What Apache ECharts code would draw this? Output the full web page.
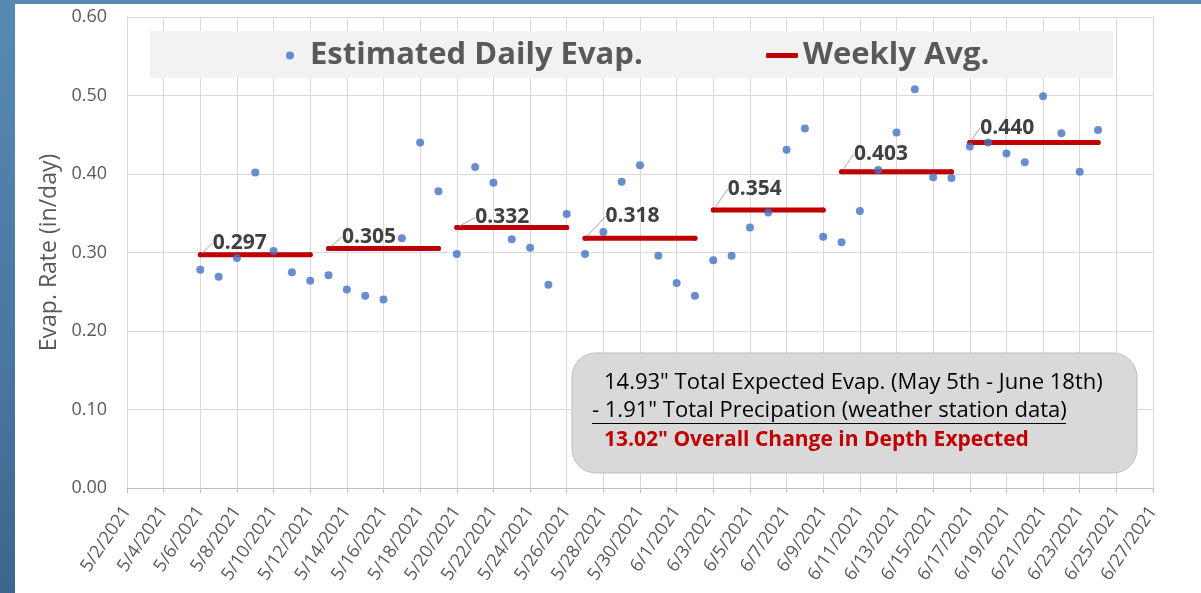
<!DOCTYPE html>
<html>
<head>
<meta charset="utf-8">
<script src="https://cdn.jsdelivr.net/npm/echarts@6/dist/echarts.min.js"></script>
<style>
  html, body { margin: 0; padding: 0; }
  body {
    width: 1201px; height: 593px; overflow: hidden; position: relative;
    background: linear-gradient(180deg, #5788b4 0%, #4a77a2 60%, #3d658f 100%);
  }
  .panel { position: absolute; left: 15px; top: 4px; width: 1186px; height: 589px; background: #fff; }
  #chart { position: absolute; left: 0; top: 0; width: 1201px; height: 593px; }
</style>
</head>
<body>
<div class="panel"></div>
<div id="chart"></div>
<script>
// 数据
const dates = [
  '5/6/2021', '5/7/2021', '5/8/2021', '5/9/2021', '5/10/2021', '5/11/2021', '5/12/2021',
  '5/13/2021', '5/14/2021', '5/15/2021', '5/16/2021', '5/17/2021', '5/18/2021', '5/19/2021',
  '5/20/2021', '5/21/2021', '5/22/2021', '5/23/2021', '5/24/2021', '5/25/2021', '5/26/2021',
  '5/27/2021', '5/28/2021', '5/29/2021', '5/30/2021', '5/31/2021', '6/1/2021', '6/2/2021',
  '6/3/2021', '6/4/2021', '6/5/2021', '6/6/2021', '6/7/2021', '6/8/2021', '6/9/2021',
  '6/10/2021', '6/11/2021', '6/12/2021', '6/13/2021', '6/14/2021', '6/15/2021', '6/16/2021',
  '6/17/2021', '6/18/2021', '6/19/2021', '6/20/2021', '6/21/2021', '6/22/2021', '6/23/2021', '6/24/2021'
]
const dailyEvap = [
  0.278, 0.269, 0.293, 0.402, 0.302, 0.275, 0.264,
  0.271, 0.253, 0.245, 0.240, 0.318, 0.440, 0.378,
  0.298, 0.409, 0.389, 0.317, 0.306, 0.259, 0.349,
  0.298, 0.326, 0.390, 0.411, 0.296, 0.261, 0.245,
  0.290, 0.296, 0.332, 0.351, 0.431, 0.458, 0.320,
  0.313, 0.353, 0.405, 0.453, 0.508, 0.396, 0.395,
  0.435, 0.440, 0.426, 0.415, 0.499, 0.452, 0.403, 0.456
]
const weekStart = ['5/6/2021', '5/13/2021', '5/20/2021', '5/27/2021', '6/3/2021', '6/10/2021', '6/17/2021']
const weekEnd = ['5/12/2021', '5/19/2021', '5/26/2021', '6/2/2021', '6/9/2021', '6/16/2021', '6/24/2021']
const weeklyAvg = [0.297, 0.305, 0.332, 0.318, 0.354, 0.403, 0.440]
const axisStart = '5/2/2021'
const axisEnd = '6/27/2021'
const yTicks = [0, 0.6, 0.1] // min, max, step

// 标签偏移 (px)
const labelOffsets = [[10, -12], [11, -12], [16, -10], [18, -22], [12, -21], [10, -18], [8, -15]]

// 日期 <-> 年内第几天
const monthDays = [31, 28, 31, 30, 31, 30, 31, 31, 30, 31, 30, 31]
const toDay = (s) => {
  const [m, d] = s.split('/').map(Number)
  let n = d
  for (let i = 0; i < m - 1; i++) n += monthDays[i]
  return n
}
const fromDay = (n) => {
  let m = 0
  while (n > monthDays[m]) { n -= monthDays[m]; m++ }
  return (m + 1) + '/' + n + '/2021'
}

const FONT = '"Open Sans", "Noto Sans", sans-serif'
const GREY = '#595959'

const scatterData = dates.map((d, i) => [toDay(d), dailyEvap[i]])

const avgData = []
weeklyAvg.forEach((v, i) => {
  avgData.push({
    value: [toDay(weekStart[i]), v],
    label: { show: true }
  })
  avgData.push({ value: [toDay(weekEnd[i]), v] })
  avgData.push({ value: [toDay(weekEnd[i]), '-'] })
})

const chart = echarts.init(document.getElementById('chart'))

const option = {
  animation: false,
  textStyle: { fontFamily: FONT },
  grid: { left: 127, right: 48, top: 17, bottom: 105 },
  graphic: [
    {
      type: 'rect', z: 1, silent: true,
      shape: { x: 150, y: 31, width: 963, height: 47 },
      style: { fill: '#f2f2f2' }
    },
    {
      type: 'rect', z: 20, silent: true,
      shape: { x: 572, y: 353, width: 565, height: 120, r: 24 },
      style: { fill: '#d9d9d9', stroke: '#bfbfbf', lineWidth: 1 }
    },
    {
      type: 'text', z: 21, silent: true, x: 604, y: 383,
      style: { text: '14.93" Total Expected Evap. (May 5th - June 18th)', fill: '#000', font: '22px ' + FONT, verticalAlign: 'middle' }
    },
    {
      type: 'text', z: 21, silent: true, x: 592, y: 411,
      style: { text: '- 1.91" Total Precipation (weather station data)', fill: '#000', font: '22px ' + FONT, verticalAlign: 'middle' }
    },
    {
      type: 'line', z: 21, silent: true,
      shape: { x1: 592, y1: 423.5, x2: 1066, y2: 423.5 },
      style: { stroke: '#000', lineWidth: 1 }
    },
    {
      type: 'text', z: 21, silent: true, x: 604, y: 440,
      style: { text: '13.02" Overall Change in Depth Expected', fill: '#c00000', font: 'bold 21px ' + FONT, verticalAlign: 'middle' }
    }
  ],
  legend: [
    {
      data: [{ name: 'Estimated Daily Evap.', icon: 'circle' }],
      left: 286, top: 40, padding: 0,
      itemWidth: 30, itemHeight: 8,
      textStyle: { fontSize: 31, fontWeight: 'bold', color: GREY, fontFamily: FONT }
    },
    {
      data: [{ name: 'Weekly Avg.', icon: 'roundRect' }],
      left: 766, top: 40, padding: 0,
      itemWidth: 32, itemHeight: 5,
      textStyle: { fontSize: 31, fontWeight: 'bold', color: GREY, fontFamily: FONT }
    }
  ],
  xAxis: {
    type: 'value',
    min: toDay(axisStart),
    max: toDay(axisEnd),
    interval: 2,
    axisLine: { show: true, lineStyle: { color: '#bfbfbf' } },
    axisTick: { show: true, length: 5, lineStyle: { color: '#bfbfbf' } },
    splitLine: { show: true, lineStyle: { color: '#d9d9d9' } },
    axisLabel: {
      rotate: 56,
      margin: 20,
      fontSize: 18,
      color: GREY,
      fontFamily: FONT,
      formatter: (v) => fromDay(v)
    }
  },
  yAxis: {
    type: 'value',
    min: yTicks[0],
    max: yTicks[1],
    interval: yTicks[2],
    name: 'Evap. Rate (in/day)',
    nameLocation: 'middle',
    nameGap: 65,
    nameTextStyle: { fontSize: 23, color: GREY, fontFamily: FONT },
    axisLine: { show: true, lineStyle: { color: '#d9d9d9' } },
    axisTick: { show: false },
    splitLine: { lineStyle: { color: '#d9d9d9' } },
    axisLabel: {
      margin: 20,
      fontSize: 18,
      color: GREY,
      fontFamily: FONT,
      formatter: (v) => v.toFixed(2)
    }
  },
  series: [
    {
      name: 'Estimated Daily Evap.',
      type: 'scatter',
      symbolSize: 8,
      itemStyle: { color: '#4472c4' },
      data: scatterData,
      z: 3
    },
    {
      name: 'Weekly Avg.',
      type: 'line',
      symbol: 'circle',
      symbolSize: 5,
      showSymbol: true,
      itemStyle: { color: '#c00000' },
      lineStyle: { color: '#c00000', width: 5, cap: 'round' },
      data: avgData,
      z: 2,
      label: {
        show: false,
        position: 'right',
        distance: 0,
        fontSize: 21,
        fontWeight: 'bold',
        color: '#404040',
        fontFamily: FONT,
        formatter: (p) => p.value[1].toFixed(3)
      },
      labelLine: { show: true, lineStyle: { color: '#a6a6a6', width: 1 } },
      labelLayout: (p) => {
        const off = labelOffsets[Math.floor(p.dataIndex / 3)]
        return off ? { dx: off[0], dy: off[1] } : {}
      }
    }
  ]
}

chart.setOption(option)
</script>
</body>
</html>
